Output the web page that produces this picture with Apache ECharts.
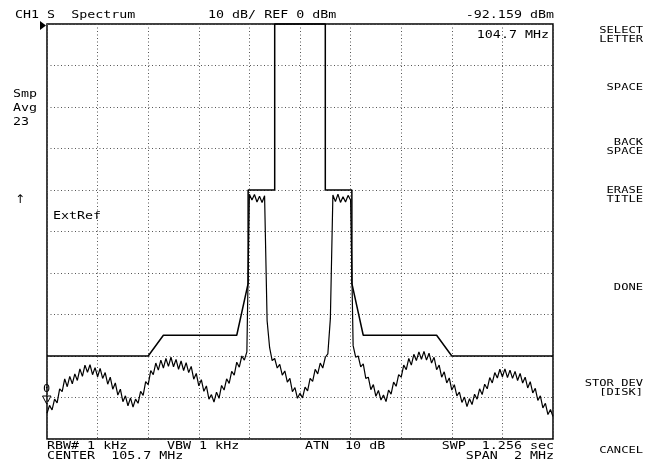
<!DOCTYPE html>
<html>
<head>
<meta charset="utf-8">
<script src="https://cdn.jsdelivr.net/npm/echarts@6/dist/echarts.min.js"></script>
<style>
html,body{margin:0;padding:0;background:#fff;}
#c{width:646px;height:468px;}
</style>
</head>
<body>
<div id="c"></div>
<script>
// ---- data ----
const centerMHz = 105.7;
const spanMHz = 2;
const freqStartMHz = 104.7;
const freqStepMHz = 0.01;
const refDbm = 0;
const dbPerDiv = 10;

// measured trace (dBm), one value per 10 kHz from 104.70 to 106.70 MHz
const traceDbm = [
 -93.8,-91.9,-93.0,-90.4,-91.3,-87.9,-88.6,-85.5,-87.4,-84.9,
 -86.7,-84.3,-85.9,-83.1,-84.9,-82.2,-83.9,-82.1,-84.5,-82.8,
 -85.0,-83.0,-85.4,-84.0,-86.8,-85.1,-88.0,-86.5,-89.4,-88.0,
 -91.0,-89.6,-92.0,-90.1,-92.3,-90.4,-91.4,-88.5,-89.5,-86.2,
 -86.9,-83.5,-84.5,-81.7,-83.4,-81.0,-82.9,-80.6,-82.5,-80.3,
 -82.6,-80.8,-83.2,-81.2,-83.5,-81.6,-84.0,-82.5,-85.6,-84.2,
 -87.2,-85.7,-88.5,-87.2,-90.4,-89.3,-91.1,-88.7,-90.2,-87.1,
 -88.2,-85.5,-86.6,-83.7,-84.6,-81.5,-82.7,-80.0,-81.0,-79.0,
 -41.0,-42.4,-41.1,-42.9,-41.5,-43.0,-41.4,-71.5,-78.0,-81.1,
 -80.6,-82.9,-82.0,-84.6,-83.6,-86.3,-85.4,-88.6,-87.6,-90.2,
 -89.0,-90.1,-87.5,-88.4,-85.4,-86.1,-83.2,-84.3,-81.7,-82.9,
 -80.3,-79.5,-71.0,-41.2,-42.8,-41.0,-43.0,-41.6,-42.9,-41.3,
 -42.4,-77.5,-80.3,-80.0,-82.6,-81.9,-85.4,-85.1,-88.1,-86.9,
 -89.7,-88.3,-90.6,-89.4,-91.0,-88.2,-89.2,-86.3,-87.3,-84.5,
 -85.1,-82.2,-83.3,-80.6,-82.2,-79.6,-81.1,-79.0,-80.8,-78.9,
 -81.0,-79.3,-81.7,-80.3,-83.3,-82.2,-85.1,-83.8,-86.5,-85.3,
 -88.2,-86.9,-89.6,-88.7,-91.2,-89.9,-92.2,-90.3,-91.7,-89.2,
 -90.4,-87.9,-89.3,-86.8,-87.9,-85.2,-86.5,-84.0,-85.3,-83.2,
 -85.0,-83.1,-85.2,-83.4,-85.4,-83.7,-85.9,-84.2,-86.5,-85.1,
 -87.7,-86.2,-88.9,-87.8,-90.7,-89.6,-92.5,-91.4,-94.1,-92.9,
 -94.6
];

// limit mask
const maskFreqMHz = [104.7,105.1,105.16,105.45,105.495,105.495,105.6,105.6,105.8,105.8,105.905,105.905,105.95,106.24,106.3,106.7];
const maskDbm     = [-80,  -80,  -75,   -75,   -62.5,  -40,    -40,  0,    0,    -40,  -40,    -62.5,  -75,   -75,   -80,  -80];

// annotation texts
const headerLeft = 'CH1 S  Spectrum';
const headerMid = '10 dB/ REF 0 dBm';
const headerRight = '-92.159 dBm';
const markerFreq = '104.7 MHz';
const sideLabels = ['Smp','Avg','23'];
const extRef = 'ExtRef';
const footer1 = ['RBW# 1 kHz','VBW 1 kHz','ATN  10 dB','SWP  1.256 sec'];
const footer2 = ['CENTER  105.7 MHz','SPAN  2 MHz'];
const softkeys = [['SELECT','LETTER'],['SPACE'],['BACK','SPACE'],['ERASE','TITLE'],['DONE'],['STOR DEV','[DISK]'],['CANCEL']];

// ---- build ----
const toK = f => Math.round((f - centerMHz) * 1000 * 100) / 100;
const traceData = traceDbm.map((v, i) => [toK(freqStartMHz + i * freqStepMHz), v]);
const maskData = maskFreqMHz.map((f, i) => [toK(f), maskDbm[i]]);

const MONO = 'DejaVu Sans Mono';
function txt(x, y, s, align, size, sx, sy) {
  return {type:'text', x:x, y:y, scaleX: sx || 1.11, scaleY: sy || 0.88, silent:true, z:10,
    style:{x:0, y:0, text:s, fill:'#000', font: (size||12)+'px "'+MONO+'"', align: align||'left', verticalAlign:'middle'}};
}
const g = [];
g.push(txt(15, 15, headerLeft));
g.push(txt(208, 15, headerMid));
g.push(txt(554, 15, headerRight, 'right'));
g.push(txt(549, 35, markerFreq, 'right'));
g.push(txt(13, 94, sideLabels[0]));
g.push(txt(13, 108, sideLabels[1]));
g.push(txt(13, 122, sideLabels[2]));
g.push({type:'text', x:20, y:200, silent:true, style:{text:'\u2191', fill:'#000', font:'12px "DejaVu Sans"', align:'center', verticalAlign:'middle'}});
g.push(txt(53, 216, extRef));
g.push(txt(47, 446, footer1[0], 'left', 12, 1.11, 0.82));
g.push(txt(167, 446, footer1[1], 'left', 12, 1.11, 0.82));
g.push(txt(305, 446, footer1[2], 'left', 12, 1.11, 0.82));
g.push(txt(554, 446, footer1[3], 'right', 12, 1.11, 0.82));
g.push(txt(47, 456, footer2[0], 'left', 12, 1.11, 0.82));
g.push(txt(554, 456, footer2[1], 'right', 12, 1.11, 0.82));
const skY = [[31,40],[88],[143,152],[191,200],[288],[384,393],[451]];
softkeys.forEach((lines, k) => lines.forEach((s, j) => g.push(txt(643, skY[k][j], s, 'right', 11, 1.1, 0.75))));
// markers
g.push({type:'polygon', silent:true, shape:{points:[[40,21],[46,25.5],[40,30]]}, style:{fill:'#000'}});
g.push(txt(46.5, 389, '0', 'center', 12, 1, 0.85));
g.push({type:'polygon', silent:true, shape:{points:[[42.5,396],[51,396],[46.7,404]]}, style:{fill:'none', stroke:'#000', lineWidth:1}});

const chart = echarts.init(document.getElementById('c'), null, {renderer:'canvas'});
chart.setOption({
  backgroundColor:'#fff',
  animation:false,
  grid:{left:47, top:24, width:506, height:415, show:true, borderColor:'#000', borderWidth:1.5, backgroundColor:'transparent'},
  xAxis:{type:'value', min:-spanMHz*500, max:spanMHz*500, interval:200,
    axisLine:{show:false}, axisTick:{show:false}, axisLabel:{show:false},
    splitLine:{show:true, lineStyle:{color:'#555', width:1, type:[1,2.5]}}},
  yAxis:{type:'value', min:refDbm-10*dbPerDiv, max:refDbm, interval:dbPerDiv,
    axisLine:{show:false}, axisTick:{show:false}, axisLabel:{show:false},
    splitLine:{show:true, lineStyle:{color:'#555', width:1, type:[1,2.5]}}},
  series:[
    {type:'line', data:maskData, symbol:'none', clip:false, lineStyle:{color:'#000', width:1.5}, z:3},
    {type:'line', data:traceData, symbol:'none', lineStyle:{color:'#000', width:1.2}, z:4}
  ],
  graphic:g
});
</script>
</body>
</html>
